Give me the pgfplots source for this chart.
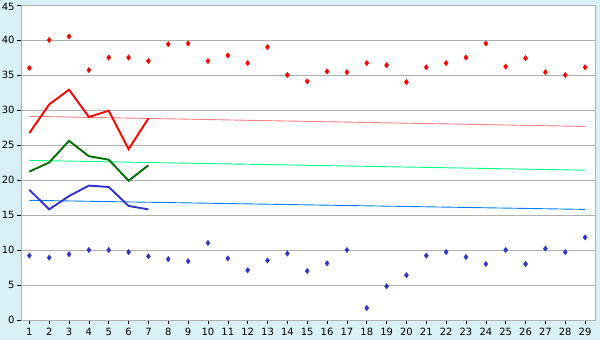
\documentclass[border=0pt]{standalone}
\usepackage{pgfplots}
\pgfplotsset{compat=1.18}
\usepackage{fontspec}
\setmainfont{DejaVu Sans}
\definecolor{bgblue}{RGB}{218,240,247}
\definecolor{gridgray}{RGB}{176,176,176}
\definecolor{redtrend}{RGB}{255,128,128}
\definecolor{greentrend}{RGB}{0,255,128}
\definecolor{bluetrend}{RGB}{0,128,255}
\definecolor{darkgreen}{RGB}{0,112,0}
\definecolor{ptblue}{RGB}{51,51,204}
\pgfplotstableread{
x hi lo
1 36.0 9.2
2 40.0 8.9
3 40.5 9.4
4 35.7 10.0
5 37.5 10.0
6 37.5 9.7
7 37.0 9.1
8 39.4 8.7
9 39.5 8.4
10 37.0 11.0
11 37.8 8.8
12 36.7 7.1
13 39.0 8.5
14 35.0 9.5
15 34.1 7.0
16 35.5 8.1
17 35.4 10.0
18 36.7 1.7
19 36.4 4.8
20 34.0 6.4
21 36.1 9.2
22 36.7 9.7
23 37.5 9.0
24 39.5 8.0
25 36.2 10.0
26 37.4 8.0
27 35.4 10.2
28 35.0 9.7
29 36.1 11.8
}\points
\pgfplotstableread{
x r g b
1 26.7 21.2 18.6
2 30.8 22.5 15.8
3 32.9 25.6 17.7
4 29.0 23.4 19.2
5 29.9 22.9 19.0
6 24.4 19.9 16.3
7 28.8 22.1 15.8
}\lines
\begin{document}
\begin{tikzpicture}
\fill[bgblue] (0,0) rectangle (600bp,340bp);
\begin{axis}[
  at={(21bp,20bp)}, anchor=south west,
  width=574bp, height=315bp, scale only axis,
  xmin=0.58, xmax=29.5, ymin=0, ymax=45,
  xtick={1,...,29}, ytick={0,5,...,40},
  extra y ticks={45},
  extra y tick style={yticklabel style={yshift=-1.8bp}},
  axis background/.style={fill=white},
  axis line style={draw=gridgray, line width=0.8bp},
  ymajorgrids, grid style={draw=gridgray, line width=0.8bp},
  xtick pos=bottom, ytick pos=left,
  tick align=outside, major tick length=4bp,
  tick style={black, line width=0.6bp},
  tick label style={font=\fontsize{10}{12}\selectfont, text=black},
  /pgf/number format/assume math mode=true,
  xticklabel style={yshift=-1bp},
  yticklabel style={xshift=1bp},
  clip=false,
]
\addplot[redtrend, line width=0.9bp] coordinates {(1,29.1) (29,27.65)};
\addplot[greentrend, line width=0.9bp] coordinates {(1,22.8) (29,21.4)};
\addplot[bluetrend, line width=0.9bp] coordinates {(1,17.1) (29,15.8)};
\addplot[red, line width=1.9bp] table[x=x,y=r] {\lines};
\addplot[darkgreen, line width=1.9bp] table[x=x,y=g] {\lines};
\addplot[ptblue, line width=1.9bp] table[x=x,y=b] {\lines};
\addplot[only marks, mark=diamond*, mark size=2.7bp, color=red] table[x=x,y=hi] {\points};
\addplot[only marks, mark=diamond*, mark size=2.7bp, color=ptblue] table[x=x,y=lo] {\points};
\end{axis}
\pgfresetboundingbox
\path[use as bounding box] (0,0) rectangle (600bp,340bp);
\end{tikzpicture}
\end{document}
